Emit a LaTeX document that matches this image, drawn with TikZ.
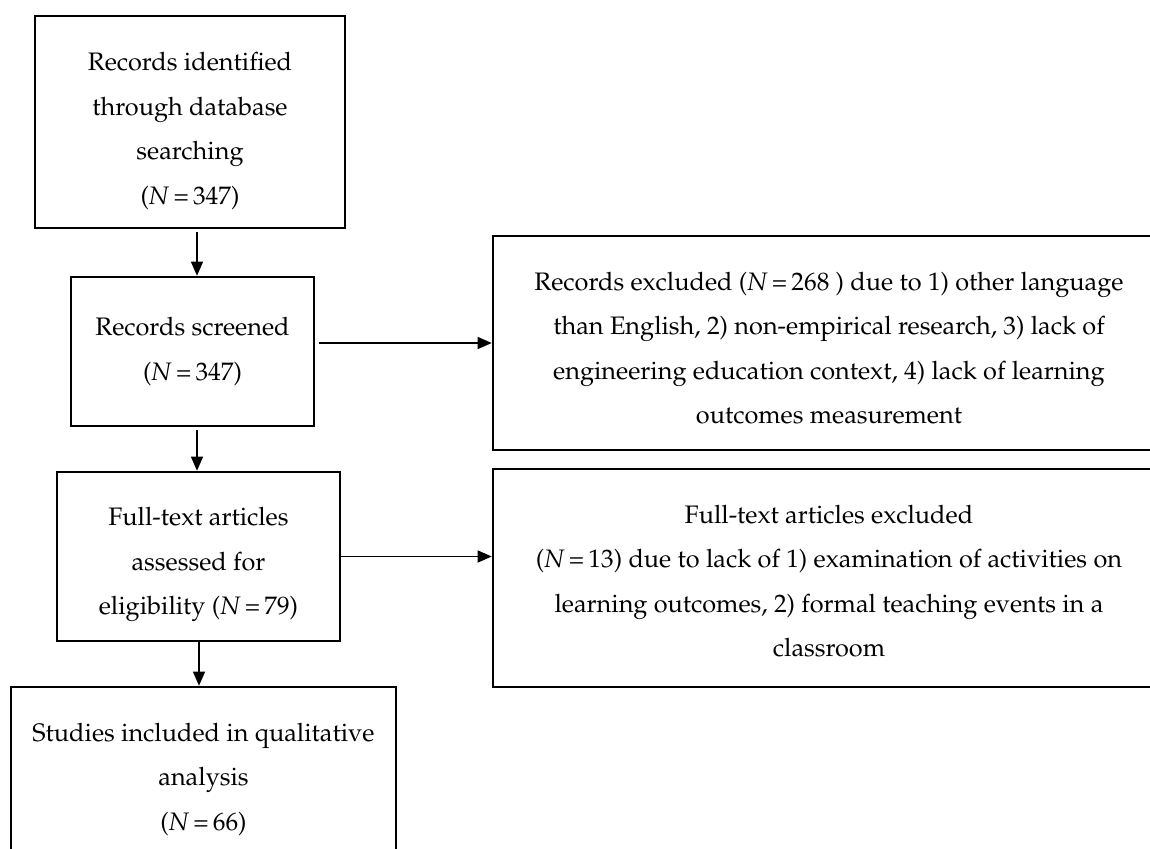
\documentclass[tikz,border=0pt]{standalone}
\usepackage[T1]{fontenc}
\usepackage{mathpazo}
\usetikzlibrary{arrows.meta}
\tikzset{
  box/.style={draw=black, line width=2.6pt, rectangle, inner sep=0pt},
  txt/.style={inner sep=0pt, align=center, font=\fontsize{25.3}{44.5}\selectfont},
  arr/.style={line width=1.3pt, -{Triangle[length=14pt,width=12pt]}}
}
\newcommand{\NN}{\textit{N}\,=\,}
\begin{document}
\begin{tikzpicture}[x=1pt,y=-1pt]
\useasboundingbox (0,0) rectangle (1150,848);
\fill[white] (0,0) rectangle (1150,848);
\clip (0,0) rectangle (1150,848);
\node[box, minimum width=310pt, minimum height=212pt] (b1) at (190,122) {};
\node[txt, yshift=-9pt] (t1) at (b1.center)
  {Records identified\\through database\\searching\\(\NN347)};
\node[box, minimum width=243pt, minimum height=149pt] (b2) at (192.5,351.5) {};
\node[txt] (t2) at (b2.center) {Records screened\\(\NN347)};
\node[box, minimum width=672pt, minimum height=214pt] (b3) at (829,343) {};
\node[txt, yshift=-5pt] (t3) at (b3.center)
  {Records excluded (\NN268 ) due to 1) other language\\than English, 2) non-empirical research, 3) lack of\\engineering education context, 4) lack of learning\\outcomes measurement};
\node[box, minimum width=283pt, minimum height=169pt] (b4) at (198.5,556.5) {};
\node[txt, yshift=-8pt] (t4) at (b4.center)
  {Full-text articles\\assessed for\\eligibility (\NN79)};
\node[box, minimum width=672pt, minimum height=218pt] (b5) at (829,578) {};
\node[txt, yshift=-3pt] (t5) at (b5.center)
  {Full-text articles excluded\\(\NN13) due to lack of 1) examination of activities on\\learning outcomes, 2) formal teaching events in a\\classroom};
\node[box, minimum width=385pt, minimum height=182pt] (b6) at (203.5,778) {};
\node[txt, yshift=-1pt] (t6) at (b6.center)
  {Studies included in qualitative\\analysis\\(\NN66)};
\draw[arr] ([xshift=7pt,yshift=-3pt]b1.south) -- ([xshift=4.5pt]b2.north);
\draw[arr] ([xshift=4.5pt,yshift=-3pt]b2.south) -- ([xshift=-1.5pt]b4.north);
\draw[arr] ([xshift=0.5pt]b4.south) -- ([xshift=-4.5pt]b6.north);
\draw[arr] ([xshift=4pt,yshift=8.5pt]b2.east) -- ([yshift=8.5pt]b2.east -| b3.west);
\draw[arr] (b4.east) -- (b4.east -| b5.west);
\end{tikzpicture}
\end{document}
